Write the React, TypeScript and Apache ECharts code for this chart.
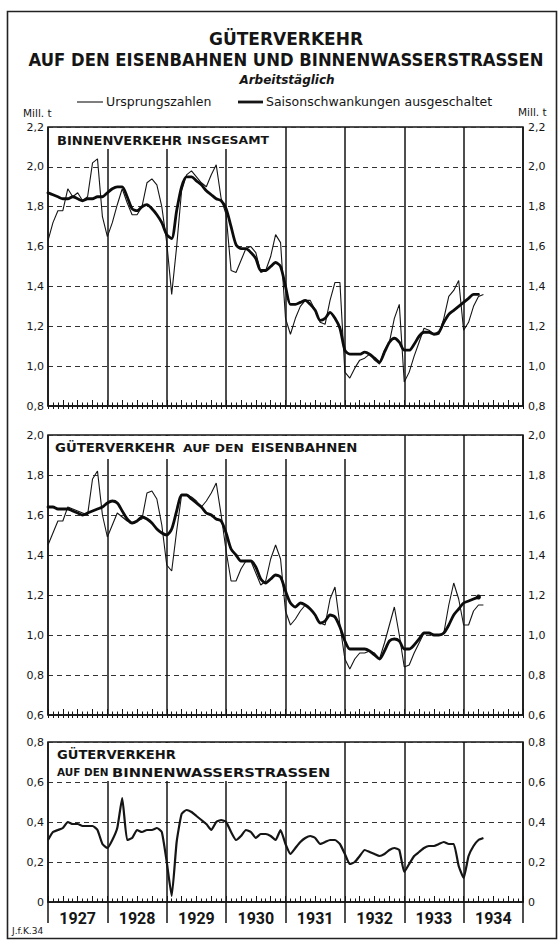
import React, { useEffect, useRef } from "react";
import * as echarts from "echarts";

// ---- Data (monthly, Jan 1927 = index 0) ----
const yearLabels = ["1927", "1928", "1929", "1930", "1931", "1932", "1933", "1934"];

// Binnenverkehr insgesamt – Ursprungszahlen
const binnenOrig = [
  1.63, 1.72, 1.78, 1.78, 1.89, 1.85, 1.87, 1.83, 1.85, 2.02, 2.04, 1.75,
  1.65, 1.72, 1.81, 1.89, 1.82, 1.76, 1.76, 1.80, 1.92, 1.94, 1.91, 1.80,
  1.62, 1.36, 1.60, 1.88, 1.96, 1.98, 1.95, 1.92, 1.90, 1.96, 2.01, 1.84,
  1.76, 1.48, 1.47, 1.53, 1.59, 1.60, 1.57, 1.47, 1.48, 1.55, 1.66, 1.62,
  1.24, 1.16, 1.24, 1.30, 1.33, 1.33, 1.28, 1.22, 1.21, 1.33, 1.42, 1.42,
  0.97, 0.94, 0.99, 1.03, 1.04, 1.06, 1.03, 1.01, 1.08, 1.12, 1.24, 1.31,
  0.92, 0.97, 1.05, 1.12, 1.19, 1.18, 1.16, 1.16, 1.24, 1.35, 1.38, 1.43,
  1.18, 1.22, 1.30, 1.35, 1.36,
];
// Binnenverkehr insgesamt – Saisonschwankungen ausgeschaltet
const binnenSais = [
  1.87, 1.86, 1.85, 1.84, 1.84, 1.85, 1.84, 1.83, 1.84, 1.84, 1.85, 1.85,
  1.87, 1.89, 1.90, 1.90, 1.85, 1.79, 1.78, 1.80, 1.81, 1.79, 1.76, 1.72,
  1.66, 1.64, 1.78, 1.90, 1.95, 1.95, 1.93, 1.91, 1.88, 1.86, 1.84, 1.83,
  1.79, 1.70, 1.61, 1.59, 1.59, 1.57, 1.54, 1.48, 1.48, 1.50, 1.52, 1.50,
  1.40, 1.31, 1.31, 1.32, 1.33, 1.31, 1.28, 1.23, 1.24, 1.27, 1.24, 1.19,
  1.08, 1.06, 1.06, 1.06, 1.07, 1.06, 1.04, 1.02, 1.07, 1.12, 1.14, 1.12,
  1.08, 1.08, 1.11, 1.15, 1.17, 1.17, 1.16, 1.17, 1.22, 1.26, 1.28, 1.30,
  1.32, 1.34, 1.36, 1.36,
];
// Güterverkehr auf den Eisenbahnen – Ursprungszahlen
const bahnOrig = [
  1.45, 1.51, 1.57, 1.57, 1.64, 1.63, 1.62, 1.61, 1.60, 1.78, 1.82, 1.60,
  1.49, 1.55, 1.61, 1.59, 1.57, 1.56, 1.57, 1.58, 1.71, 1.72, 1.68, 1.55,
  1.35, 1.32, 1.52, 1.70, 1.70, 1.69, 1.67, 1.64, 1.67, 1.71, 1.76, 1.60,
  1.42, 1.27, 1.27, 1.33, 1.37, 1.37, 1.31, 1.25, 1.27, 1.38, 1.45, 1.38,
  1.12, 1.05, 1.08, 1.12, 1.15, 1.13, 1.10, 1.06, 1.05, 1.18, 1.24, 1.05,
  0.88, 0.83, 0.88, 0.91, 0.91, 0.92, 0.91, 0.88, 0.96, 1.05, 1.14, 1.00,
  0.84, 0.85, 0.91, 0.96, 1.01, 1.01, 1.00, 1.00, 1.01, 1.15, 1.26, 1.18,
  1.05, 1.05, 1.12, 1.15, 1.15,
];
// Güterverkehr auf den Eisenbahnen – Saisonschwankungen ausgeschaltet
const bahnSais = [
  1.64, 1.64, 1.63, 1.63, 1.63, 1.62, 1.61, 1.60, 1.61, 1.62, 1.63, 1.64,
  1.66, 1.67, 1.66, 1.62, 1.58, 1.56, 1.57, 1.59, 1.58, 1.56, 1.53, 1.51,
  1.50, 1.53, 1.62, 1.70, 1.70, 1.68, 1.66, 1.64, 1.61, 1.60, 1.58, 1.57,
  1.51, 1.43, 1.40, 1.37, 1.37, 1.37, 1.34, 1.28, 1.26, 1.28, 1.30, 1.29,
  1.22, 1.16, 1.14, 1.16, 1.15, 1.13, 1.10, 1.06, 1.07, 1.10, 1.09, 1.04,
  0.97, 0.93, 0.93, 0.93, 0.93, 0.92, 0.90, 0.88, 0.92, 0.97, 0.98, 0.97,
  0.93, 0.93, 0.95, 0.98, 1.01, 1.01, 1.00, 1.00, 1.01, 1.05, 1.10, 1.13,
  1.16, 1.17, 1.18, 1.19,
];
// Güterverkehr auf den Binnenwasserstraßen
const wasser = [
  0.31, 0.35, 0.36, 0.37, 0.40, 0.39, 0.39, 0.38, 0.38, 0.38, 0.36, 0.29,
  0.27, 0.31, 0.37, 0.52, 0.31, 0.32, 0.36, 0.35, 0.36, 0.36, 0.37, 0.35,
  0.20, 0.03, 0.30, 0.44, 0.46, 0.45, 0.43, 0.41, 0.39, 0.36, 0.40, 0.41,
  0.40, 0.35, 0.31, 0.33, 0.36, 0.35, 0.32, 0.34, 0.34, 0.33, 0.31, 0.36,
  0.29, 0.24, 0.27, 0.30, 0.32, 0.33, 0.32, 0.29, 0.30, 0.31, 0.31, 0.29,
  0.24, 0.19, 0.20, 0.23, 0.26, 0.25, 0.24, 0.23, 0.24, 0.26, 0.27, 0.26,
  0.15, 0.19, 0.23, 0.25, 0.27, 0.28, 0.28, 0.29, 0.30, 0.29, 0.29, 0.18,
  0.12, 0.23, 0.28, 0.31, 0.32,
];

const yRanges = [
  [0.8, 2.2],
  [0.6, 2.0],
  [0, 0.8],
];

const seriesNames = ["Ursprungszahlen", "Saisonschwankungen ausgeschaltet"];

const SANS = "'DejaVu Sans', sans-serif";
const INK = "#151515";

const pts = (arr: number[]) => arr.map((v, i) => [i, v]);
const fmt = (v: number) => (Math.abs(v) < 1e-9 ? "0" : v.toFixed(1).replace(".", ","));

function txt(
  x: number,
  y: number,
  text: string,
  size: number,
  opts: { weight?: string; italic?: boolean; scaleX?: number; align?: string; font?: string } = {}
) {
  return {
    type: "text",
    x,
    y,
    scaleX: opts.scaleX ?? 1,
    z: 60,
    style: {
      x: 0,
      y: 0,
      text,
      fill: INK,
      font: `${opts.italic ? "italic " : ""}${opts.weight ?? "normal"} ${size}px ${opts.font ?? SANS}`,
      align: opts.align ?? "left",
      verticalAlign: "middle",
    },
  };
}

function whiteBox(x: number, y: number, w: number, h: number) {
  return { type: "rect", z: 55, shape: { x, y, width: w, height: h }, style: { fill: "#fff" } };
}

export default function App() {
  const ref = useRef<HTMLDivElement>(null);

  useEffect(() => {
    if (!ref.current) return;
    const chart = echarts.init(ref.current, undefined, { renderer: "svg" });

    const grids = [
      { left: 48, top: 127, width: 475, height: 279 },
      { left: 48, top: 435, width: 475, height: 280 },
      { left: 48, top: 742, width: 475, height: 160 },
    ].map((g) => ({
      ...g,
      show: true,
      borderColor: INK,
      borderWidth: 1.5,
      backgroundColor: "#fff",
      containLabel: false,
    }));

    const xAxis: any[] = [];
    const yAxis: any[] = [];
    const mainX: number[] = [];
    const leftY: number[] = [];

    grids.forEach((_, g) => {
      mainX.push(xAxis.length);
      xAxis.push({
        gridIndex: g,
        type: "value",
        min: 0,
        max: 96,
        interval: 3,
        position: "bottom",
        axisLine: { show: true, onZero: false, lineStyle: { color: INK, width: 1.5 } },
        axisTick: { show: true, inside: true, length: 6, lineStyle: { color: INK, width: 1 } },
        minorTick: { show: true, splitNumber: 3, length: 3.5, lineStyle: { color: INK, width: 1 } },
        splitLine: { show: false },
        axisLabel:
          g === 2
            ? {
                show: true,
                margin: 8,
                fontSize: 16,
                fontWeight: "bold",
                fontFamily: "Roboto, sans-serif",
                color: INK,
                showMinLabel: false,
                showMaxLabel: false,
                formatter: (v: number) => (v % 12 === 6 ? yearLabels[Math.floor(v / 12)] : ""),
              }
            : { show: false },
      });
      xAxis.push({
        gridIndex: g,
        type: "value",
        min: 0,
        max: 96,
        interval: 12,
        position: "bottom",
        axisLine: { show: false },
        axisLabel: { show: false },
        axisTick:
          g === 2
            ? { show: true, inside: false, length: 21, lineStyle: { color: INK, width: 1.5 } }
            : { show: false },
        splitLine: { show: true, lineStyle: { color: INK, width: 1.5 } },
      });
      if (g < 2) {
        xAxis.push({
          gridIndex: g,
          type: "value",
          min: 0,
          max: 96,
          interval: 1,
          position: "bottom",
          axisLine: { show: false },
          axisLabel: { show: false },
          axisTick: { show: true, inside: false, length: 3, lineStyle: { color: INK, width: 1 } },
          splitLine: { show: false },
        });
      }

      const [mn, mx] = yRanges[g];
      leftY.push(yAxis.length);
      yAxis.push({
        gridIndex: g,
        type: "value",
        min: mn,
        max: mx,
        interval: 0.2,
        position: "left",
        axisLine: { show: false },
        axisTick: { show: false },
        axisLabel: { formatter: fmt, fontSize: 11, fontFamily: SANS, color: INK, margin: 4 },
        splitLine: { show: true, lineStyle: { type: [5, 4], color: "#333", width: 1 } },
      });
      yAxis.push({
        gridIndex: g,
        type: "value",
        min: mn,
        max: mx,
        interval: 0.2,
        position: "right",
        axisLine: { show: false },
        axisTick: { show: false },
        axisLabel: { formatter: fmt, fontSize: 11, fontFamily: SANS, color: INK, margin: 5 },
        splitLine: { show: false },
      });
    });

    const thin = (name: string, data: number[], g: number, w = 1.1) => ({
      name,
      type: "line",
      xAxisIndex: mainX[g],
      yAxisIndex: leftY[g],
      data: pts(data),
      symbol: "none",
      z: 4,
      lineStyle: { color: INK, width: w },
    });
    const thick = (name: string, data: number[], g: number, endDot = false) => {
      const d: any[] = pts(data);
      if (endDot) {
        const last = d.length - 1;
        d[last] = {
          value: d[last],
          symbol: "circle",
          symbolSize: 5,
          itemStyle: { color: "#0c0c0c" },
        };
      }
      return {
        name,
        type: "line",
        xAxisIndex: mainX[g],
        yAxisIndex: leftY[g],
        data: d,
        symbol: "none",
        smooth: 0.25,
        z: 5,
        itemStyle: { color: "#0c0c0c" },
        lineStyle: { color: "#0c0c0c", width: 2.8, cap: "round", join: "round" },
      };
    };

    const series = [
      thin(seriesNames[0], binnenOrig, 0),
      thick(seriesNames[1], binnenSais, 0),
      thin(seriesNames[0], bahnOrig, 1),
      thick(seriesNames[1], bahnSais, 1, true),
      { ...thin("Binnenwasserstraßen", wasser, 2, 2.2), smooth: 0.15 },
    ];

    const graphic = [
      {
        type: "rect",
        z: 70,
        silent: true,
        shape: { x: 7.5, y: 11.5, width: 549, height: 927 },
        style: { fill: "transparent", stroke: "#222", lineWidth: 1.6 },
      },
      txt(286, 39, "GÜTERVERKEHR", 17, { weight: "bold", align: "center" }),
      txt(286, 60, "AUF DEN EISENBAHNEN UND BINNENWASSERSTRASSEN", 18, {
        weight: "bold",
        align: "center",
        scaleX: 0.913,
      }),
      txt(287, 80, "Arbeitstäglich", 12, { weight: "bold", italic: true, align: "center" }),
      { type: "line", z: 60, shape: { x1: 77, y1: 102, x2: 103, y2: 102 }, style: { stroke: INK, lineWidth: 1.1 } },
      txt(106, 101, seriesNames[0], 12.5),
      { type: "line", z: 60, shape: { x1: 238, y1: 102, x2: 263, y2: 102 }, style: { stroke: INK, lineWidth: 2.8 } },
      txt(266, 101, seriesNames[1], 12.5),
      txt(23, 113, "Mill. t", 10.5),
      txt(518, 112, "Mill. t", 10.5),
      whiteBox(49, 128, 228, 21),
      txt(57, 140, "BINNENVERKEHR", 13, { weight: "bold" }),
      txt(187, 140.5, "INSGESAMT", 11, { weight: "bold", scaleX: 1.13 }),
      whiteBox(49, 436, 314, 23),
      txt(55, 448, "GÜTERVERKEHR", 13, { weight: "bold", scaleX: 1.02 }),
      txt(183, 448.5, "AUF DEN", 11, { weight: "bold", scaleX: 1.12 }),
      txt(251, 448, "EISENBAHNEN", 13, { weight: "bold", scaleX: 1.02 }),
      whiteBox(49, 743, 288, 38),
      txt(57, 755, "GÜTERVERKEHR", 13, { weight: "bold", scaleX: 1.01 }),
      txt(57, 772.5, "AUF DEN", 11, { weight: "bold", scaleX: 0.95 }),
      txt(112, 772, "BINNENWASSERSTRASSEN", 13, { weight: "bold", scaleX: 1.13 }),
      txt(12, 931, "J.f.K.34", 9),
    ];

    chart.setOption({
      animation: false,
      backgroundColor: "#fff",
      grid: grids,
      xAxis,
      yAxis,
      series,
      graphic,
    });

    return () => chart.dispose();
  }, []);

  return (
    <div
      ref={ref}
      style={{ position: "absolute", left: 0, top: 0, width: 560, height: 942 }}
    />
  );
}
